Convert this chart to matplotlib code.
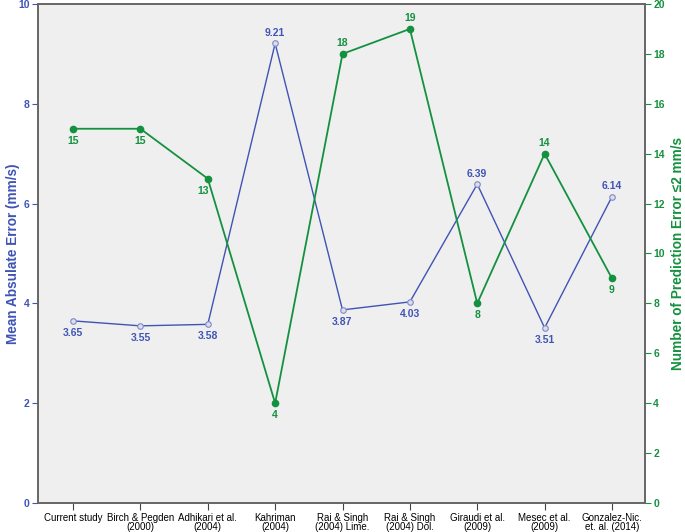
import matplotlib
matplotlib.use("Agg")
import matplotlib.pyplot as plt

plt.rcParams['font.family'] = ['Liberation Sans', 'DejaVu Sans']

categories = ["Current study", "Birch & Pegden\n(2000)", "Adhikari et al.\n(2004)",
              "Kahriman\n(2004)", "Rai & Singh\n(2004) Lime.", "Rai & Singh\n(2004) Dol.",
              "Giraudi et al.\n(2009)", "Mesec et al.\n(2009)", "Gonzalez-Nic.\net. al. (2014)"]
mae = [3.65, 3.55, 3.58, 9.21, 3.87, 4.03, 6.39, 3.51, 6.14]
count = [15, 15, 13, 4, 18, 19, 8, 14, 9]
mae_labels = ["3.65", "3.55", "3.58", "9.21", "3.87", "4.03", "6.39", "3.51", "6.14"]
mae_above = [False, False, False, True, False, False, True, False, True]
count_above = [False, False, False, False, True, True, False, True, False]

blue = "#3f54b4"
green = "#14913f"

fig = plt.figure(figsize=(6.85, 5.32), dpi=100)
ax = fig.add_axes([38/685, 1 - 503/532, 607/685, 499/532])
ax.set_facecolor("#efefef")
ax2 = ax.twinx()

x = list(range(len(categories)))
ax.plot(x, mae, color=blue, lw=1.0, marker='o', ms=4, mfc="#dcdcec", mec="#7d8ac8", mew=0.8, zorder=3)
ax2.plot(x, count, color=green, lw=1.3, marker='o', ms=4.5, mfc=green, mec=green, zorder=3)

for xi, v, lab, up in zip(x, mae, mae_labels, mae_above):
    ax.annotate(lab, (xi, v), xytext=(0, 4 if up else -5), textcoords='offset points',
                ha='center', va='bottom' if up else 'top', color=blue, fontsize=7.5, fontweight='bold')
for xi, v, up in zip(x, count, count_above):
    dx = -3 if v == 13 else 0
    ax2.annotate(str(v), (xi, v), xytext=(dx, 4 if up else -5), textcoords='offset points',
                 ha='center', va='bottom' if up else 'top', color=green, fontsize=7.5, fontweight='bold')

ax.set_xlim(-0.52, 8.49)
ax.set_ylim(0, 10)
ax2.set_ylim(0, 20)
ax.set_yticks([0, 2, 4, 6, 8, 10])
ax2.set_yticks(list(range(0, 21, 2)))
ax.set_xticks(x)
ax.set_xticklabels(categories, fontsize=7, linespacing=0.9)

for lbl in ax.get_yticklabels():
    lbl.set_color(blue); lbl.set_fontweight('bold'); lbl.set_fontsize(7.5)
for lbl in ax2.get_yticklabels():
    lbl.set_color(green); lbl.set_fontweight('bold'); lbl.set_fontsize(7.5)

ax.tick_params(axis='y', colors=blue, length=4, width=0.8, pad=2, labelcolor=blue)
ax2.tick_params(axis='y', colors=green, length=4, width=0.8, pad=2, labelcolor=green)
ax.tick_params(axis='x', length=5, width=0.8, color="#444444", pad=2)

for a in (ax, ax2):
    for s in a.spines.values():
        s.set_color("#666666")
        s.set_linewidth(1.2)

ax.set_ylabel("Mean Absulate Error (mm/s)", color=blue, fontsize=9.8, fontweight='bold')
ax2.set_ylabel("Number of Prediction Error \u22642 mm/s", color=green, fontsize=9.8, fontweight='bold')
ax.yaxis.set_label_coords(-0.030, 0.5)
ax2.yaxis.set_label_coords(1.043, 0.5)

fig.savefig("out.png", dpi=100)
